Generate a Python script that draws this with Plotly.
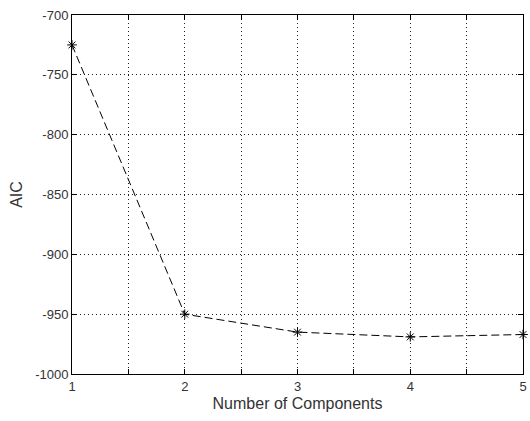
import plotly.graph_objects as go

components = [1, 2, 3, 4, 5]
aic = [-725, -950, -965, -969, -967]
x_ticks = [1, 1.5, 2, 2.5, 3, 3.5, 4, 4.5, 5]
x_labels = ["1", "", "2", "", "3", "", "4", "", "5"]
y_ticks = [-1000, -950, -900, -850, -800, -750, -700]
y_labels = ["-1000", "-950", "-900", "-850", "-800", "-750", "-700"]

FONT = "Liberation Sans, Arial"
fig = go.Figure()
fig.add_trace(go.Scatter(
    x=components, y=aic, mode="lines+markers",
    line=dict(color="black", width=1, dash="8px,4px"),
    marker=dict(symbol="asterisk", size=8, color="black", line=dict(color="black", width=1)),
    showlegend=False, cliponaxis=False,
))
axis_common = dict(
    showline=True, linecolor="black", linewidth=1, mirror="ticks",
    ticks="inside", ticklen=5, tickcolor="black",
    showgrid=True, gridcolor="#222", gridwidth=1, griddash="1px,3px",
    zeroline=False, tickfont=dict(family=FONT, size=13, color="#333"),
    ticklabeloverflow="allow",
)
fig.update_xaxes(range=[1, 5], tickvals=x_ticks, ticktext=x_labels,
                 title=dict(text="Number of Components", standoff=5,
                            font=dict(family=FONT, size=16, color="#333")),
                 **axis_common)
fig.update_yaxes(range=[-1000, -700], tickvals=y_ticks, ticktext=y_labels,
                 title=dict(text="AIC", standoff=8,
                            font=dict(family=FONT, size=16, color="#333")),
                 **axis_common)
fig.update_layout(
    width=530, height=421,
    margin=dict(l=72, r=3, t=15, b=47),
    plot_bgcolor="white", paper_bgcolor="white",
)
fig.write_html("out.html")
